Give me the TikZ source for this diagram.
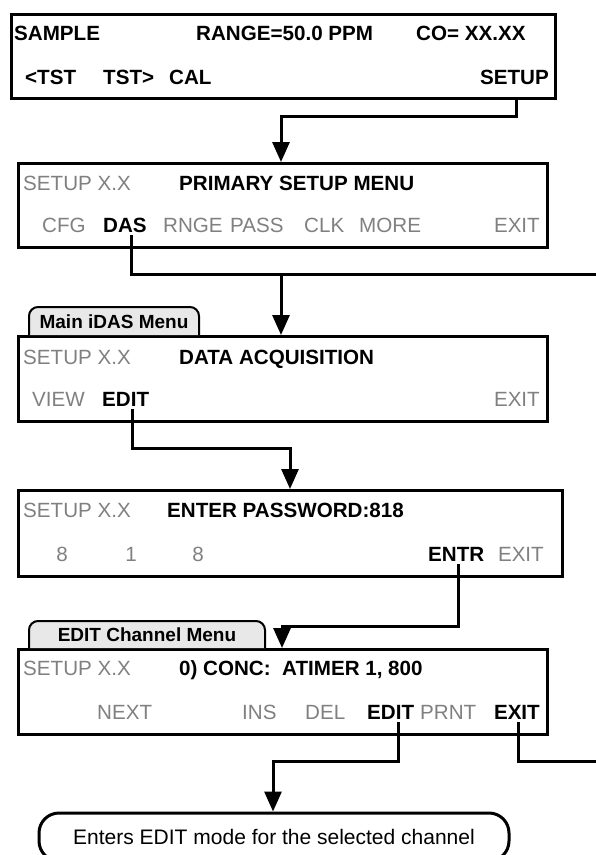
\documentclass[tikz,border=0pt]{standalone}
\usepackage{fontspec}
\setmainfont{Liberation Sans}
\usetikzlibrary{arrows.meta}
\definecolor{keygray}{RGB}{128,128,128}
\definecolor{tabgray}{RGB}{232,232,232}

\begin{document}
\begin{tikzpicture}[
  x=1pt, y=-1pt,
  scrbox/.style = {draw, line width=3pt, anchor=north west, inner sep=0pt},
  keyon/.style = {font=\fontsize{20.6}{24}\selectfont\bfseries, inner sep=0pt, anchor=base west},
  keyoff/.style = {font=\fontsize{20.6}{24}\selectfont, text=keygray, inner sep=0pt, anchor=base west},
  tablbl/.style = {font=\fontsize{19}{22}\selectfont\bfseries, inner sep=0pt},
  tabedge/.style = {draw, fill=tabgray, line width=2pt, rounded corners=9pt},
  wire/.style = {line width=3pt},
  link/.style = {line width=3pt, -{Triangle[length=20pt,width=17pt]}},
  note/.style = {draw, line width=3pt, rounded corners=20pt,
    font=\fontsize{21}{24}\selectfont, minimum width=470pt, minimum height=48pt}
]
  \useasboundingbox (0,0) rectangle (596,855);
  % screens
  \node[scrbox, minimum width=544pt, minimum height=84pt] (s1) at (10,13) {};
  \node[scrbox, minimum width=529pt, minimum height=84pt] (s2) at (17,162) {};
  \node[scrbox, minimum width=529pt, minimum height=85pt] (s3) at (17,335) {};
  \node[scrbox, minimum width=544pt, minimum height=86pt] (s4) at (17,489) {};
  \node[scrbox, minimum width=529pt, minimum height=85pt] (s5) at (17,648) {};
  % tabs
  \draw[tabedge] (29,335) -- (29,307) -- (199,307) -- (199,335);
  \node[tablbl] (tabdas) at (114,322) {Main iDAS Menu};
  \draw[tabedge] (29,648) -- (29,621) -- (265,621) -- (265,648);
  \node[tablbl] (tabedit) at (147,635) {EDIT Channel Menu};
  % sample screen
  \node[keyon] (s1sample) at (14,40) {SAMPLE};
  \node[keyon] (s1range) at (196,40) {RANGE=50.0 PPM};
  \node[keyon] (s1co) at (416,40) {CO= XX.XX};
  \node[keyon] (s1tstl) at (25,84) {<TST};
  \node[keyon] (s1tstr) at (103,84) {TST>};
  \node[keyon] (s1cal) at (169,84) {CAL};
  \node[keyon, anchor=base east] (s1setup) at (549,84) {SETUP};
  % primary setup menu
  \node[keyoff] (s2ver) at (23,190) {SETUP X.X};
  \node[keyon] (s2title) at (179,190) {PRIMARY SETUP MENU};
  \node[keyoff] (s2cfg) at (42,232) {CFG};
  \node[keyon] (s2das) at (103,232) {DAS};
  \node[keyoff] (s2rnge) at (163,232) {RNGE};
  \node[keyoff] (s2pass) at (230,232) {PASS};
  \node[keyoff] (s2clk) at (304,232) {CLK};
  \node[keyoff] (s2more) at (359,232) {MORE};
  \node[keyoff, anchor=base east] (s2exit) at (540,232) {EXIT};
  % data acquisition
  \node[keyoff] (s3ver) at (23,364) {SETUP X.X};
  \node[keyon] (s3title) at (179,364) {DATA ACQUISITION};
  \node[keyoff] (s3view) at (32,406) {VIEW};
  \node[keyon] (s3edit) at (102,406) {EDIT};
  \node[keyoff, anchor=base east] (s3exit) at (540,406) {EXIT};
  % password
  \node[keyoff] (s4ver) at (23,517) {SETUP X.X};
  \node[keyon] (s4title) at (167,517) {ENTER PASSWORD:818};
  \node[keyoff, anchor=base] (s4a) at (62,561) {8};
  \node[keyoff, anchor=base] (s4b) at (131,561) {1};
  \node[keyoff, anchor=base] (s4c) at (198,561) {8};
  \node[keyon] (s4entr) at (428,561) {ENTR};
  \node[keyoff, anchor=base east] (s4exit) at (544,561) {EXIT};
  % channel menu
  \node[keyoff] (s5ver) at (23,675) {SETUP X.X};
  \node[keyon] (s5title) at (179,675) {0) CONC:\ \ ATIMER 1, 800};
  \node[keyoff] (s5next) at (97,719) {NEXT};
  \node[keyoff] (s5ins) at (242,719) {INS};
  \node[keyoff] (s5del) at (305,719) {DEL};
  \node[keyon] (s5edit) at (367,719) {EDIT};
  \node[keyoff] (s5prnt) at (420,719) {PRNT};
  \node[keyon, anchor=base east] (s5exit) at (540,719) {EXIT};
  % result
  \node[note] (editmode) at (274,837) {Enters EDIT mode for the selected channel};
  % connectors
  \coordinate (from1) at ([xshift=2pt]s1setup.south);
  \coordinate (bend1) at (281,116);
  \coordinate (in2) at (281,162);
  \draw[link] (from1 |- s1.south) |- (bend1) -- (in2);
  \coordinate (from2) at ([xshift=7pt,yshift=-3pt]s2das.south);
  \coordinate (out1) at (596,274);
  \coordinate (in3) at (281,335);
  \draw[wire] (from2) |- (out1);
  \draw[link] (in3 |- out1) -- (in3);
  \coordinate (from3) at ([xshift=7pt,yshift=-3pt]s3edit.south);
  \coordinate (bend3) at (290,448);
  \coordinate (in4) at (290,489);
  \draw[link] (from3) |- (bend3) -- (in4);
  \coordinate (from4) at ([xshift=2pt,yshift=-3pt]s4entr.south);
  \coordinate (bend4) at (282,626);
  \coordinate (in5) at (282,648);
  \draw[link] (from4) |- (bend4) -- (in5);
  \coordinate (from5) at ([xshift=8pt,yshift=-3pt]s5edit.south);
  \coordinate (bend5) at (273,761);
  \draw[link] (from5) |- (bend5) -- (bend5 |- editmode.north);
  \coordinate (from6) at ([xshift=2pt,yshift=-3pt]s5exit.south);
  \coordinate (out2) at (596,761);
  \draw[wire] (from6) |- (out2);
\end{tikzpicture}
\end{document}
